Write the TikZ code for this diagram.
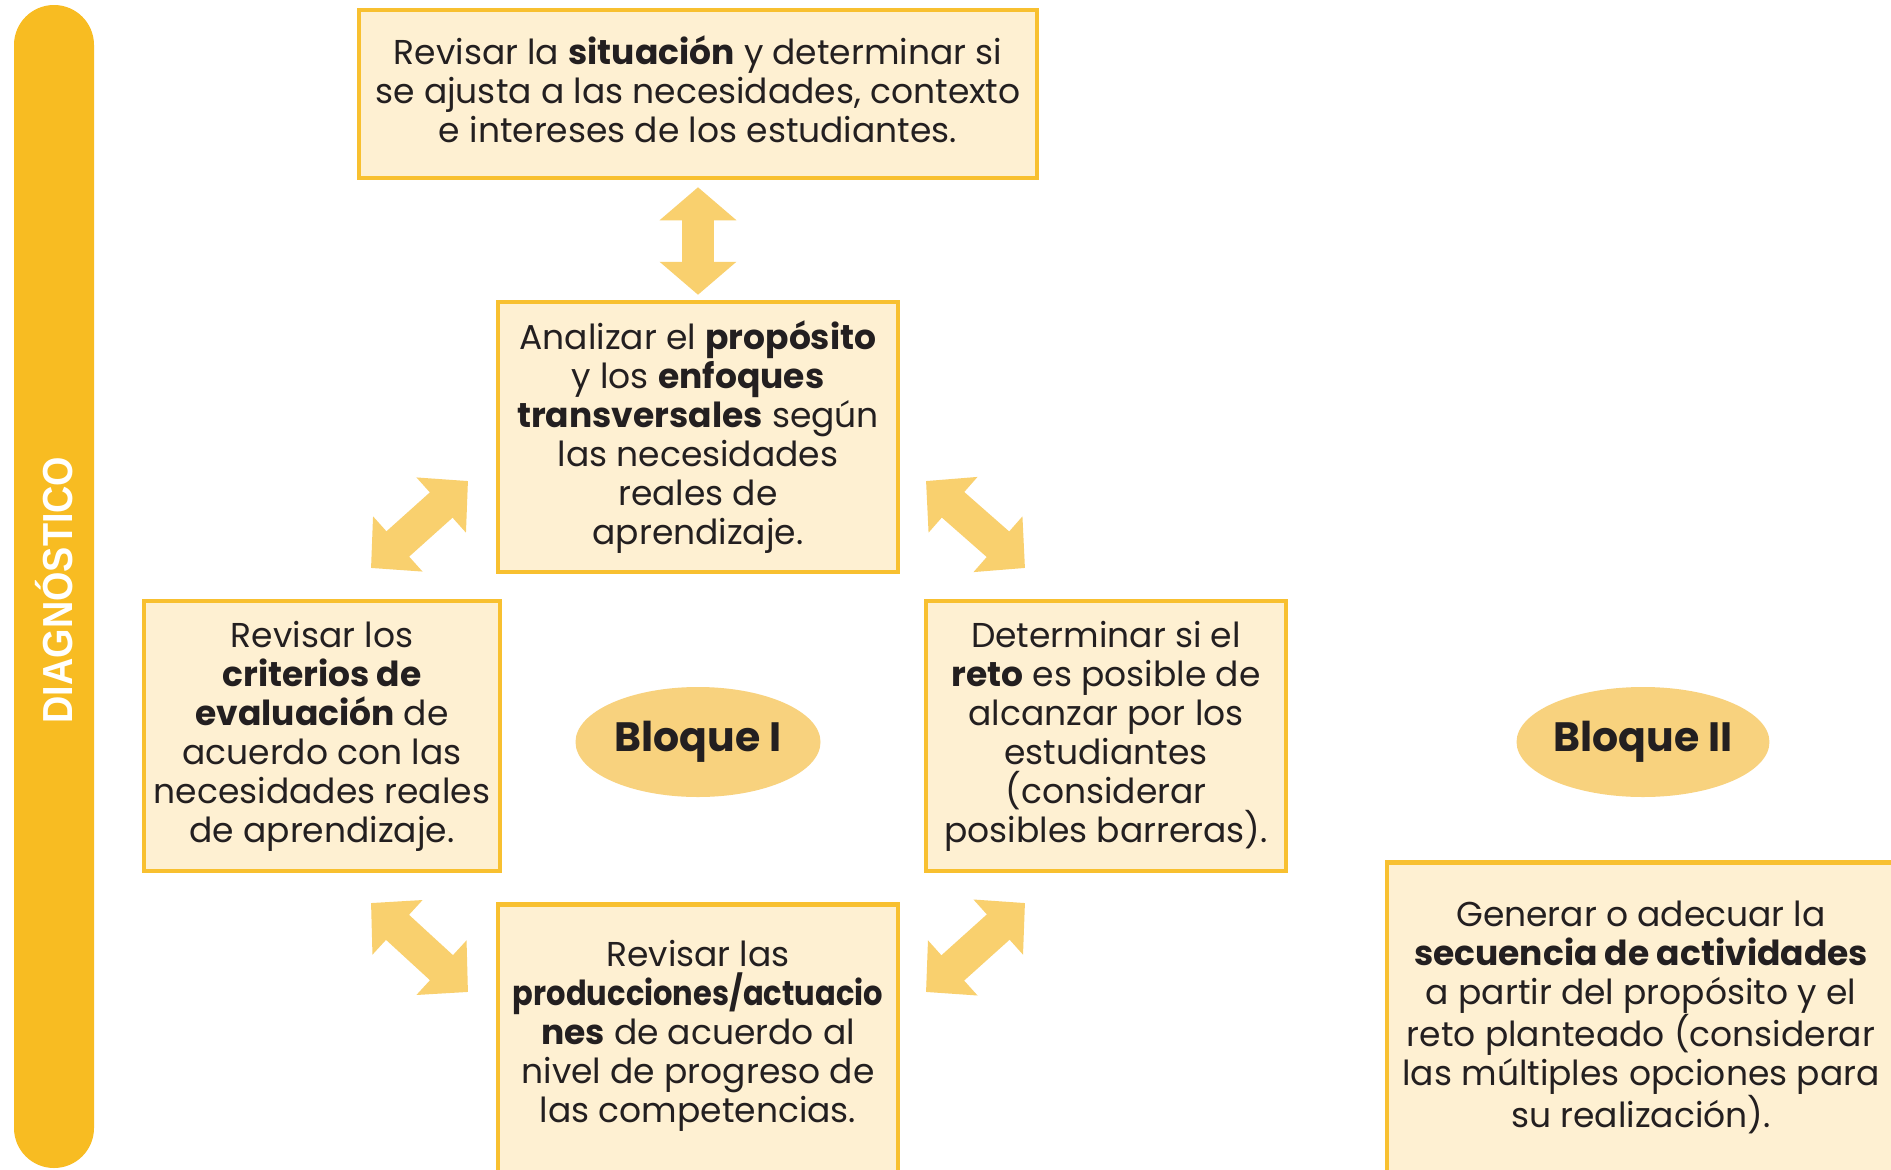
\documentclass[tikz,border=0pt]{standalone}
\usepackage{fontspec}
\setmainfont{Poppins}
\newfontfamily\diagfont{Liberation Sans}
\usetikzlibrary{arrows.meta,shapes.geometric}
\definecolor{barc}{HTML}{F8BC22}
\definecolor{boxfill}{HTML}{FEF0D2}
\definecolor{boxline}{HTML}{F8C030}
\definecolor{arrowc}{HTML}{F9D06E}
\definecolor{ellc}{HTML}{F8D27E}
\definecolor{txtc}{HTML}{231F20}
\newcommand\myBody{\fontsize{34.5}{39}\selectfont}
\begin{document}
\begin{tikzpicture}[x=1pt,y=-1pt,
  box/.style={draw=boxline, fill=boxfill, line width=4.5pt, inner sep=0pt,
    align=center, text=txtc, font=\myBody},
  blob/.style={ellipse, fill=ellc, minimum width=245pt, minimum height=110pt,
    inner sep=0pt, text=txtc, font=\fontsize{41}{44}\selectfont\bfseries},
  varrow/.style={draw=arrowc, line width=32pt, {Triangle[width=75pt,length=33pt]}-{Triangle[width=75pt,length=33pt]}},
  darrow/.style={draw=arrowc, line width=34pt, {Triangle[width=72pt,length=36pt]}-{Triangle[width=72pt,length=36pt]}}]
\useasboundingbox (0,0) rectangle (1891,1170);
\clip (0,0) rectangle (1891,1170);
\fill[white] (0,0) rectangle (1891,1170);

% side bar
\fill[barc, rounded corners=40pt] (14,5) rectangle (94,1168);
\node[rotate=90, text=white, font=\diagfont\bfseries\fontsize{42}{42}\selectfont] (diag) at (54,590) {\scalebox{0.9}[1]{DIAGNÓSTICO}};

% boxes
\node[box, minimum width=678pt, minimum height=168pt] (top) at (698,94)
  {Revisar la \textbf{situación} y determinar si\\ se ajusta a las necesidades, contexto\\ e intereses de los estudiantes.\rule[-10pt]{0pt}{0pt}};
\node[box, minimum width=400pt, minimum height=270pt] (mid) at (698,437)
  {Analizar el \textbf{propósito}\\ y los \textbf{enfoques}\\ \textbf{transversales} según\\ las necesidades\\ reales de\\ aprendizaje.};
\node[box, minimum width=356pt, minimum height=270pt] (left) at (322,736)
  {Revisar los\\ \textbf{criterios de}\\ \textbf{evaluación} de\\ acuerdo con las\\ necesidades reales\\ de aprendizaje.};
\node[box, minimum width=360pt, minimum height=270pt] (right) at (1106,736)
  {Determinar si el\\ \textbf{reto} es posible de\\ alcanzar por los\\ estudiantes\\ (considerar\\ posibles barreras).};
\node[box, anchor=north, minimum width=400pt, inner ysep=35.5pt] (prod) at (698,902)
  {Revisar las\\ \scalebox{0.885}[1]{\textbf{producciones/actuacio}}\\ \textbf{nes} de acuerdo al\\ nivel de progreso de\\ las competencias.\rule[-150pt]{0pt}{0pt}};
\node[box, anchor=north, minimum width=508pt, inner ysep=38.5pt] (seq) at (1641,860)
  {Generar o adecuar la\\ \textbf{secuencia de actividades}\\ a partir del propósito y el\\ reto planteado (considerar\\ las múltiples opciones para\\ su realización).\rule[-150pt]{0pt}{0pt}};

% ellipses
\node[blob] (b1) at (698,742) {Bloque I};
\node[blob] (b2) at (1643,742) {Bloque II};

% arrows
\draw[varrow, shorten <=7pt, shorten >=5pt] (top.south) -- (mid.north);
\coordinate (tl1) at (371,568); \coordinate (tl2) at (468,481);
\coordinate (tr1) at (926,481); \coordinate (tr2) at (1025,568);
\coordinate (bl1) at (371,903); \coordinate (bl2) at (468,992);
\coordinate (br1) at (926,992); \coordinate (br2) at (1025,903);
\draw[darrow] (tl1) -- (tl2);
\draw[darrow] (tr1) -- (tr2);
\draw[darrow] (bl1) -- (bl2);
\draw[darrow] (br1) -- (br2);
\end{tikzpicture}
\end{document}
